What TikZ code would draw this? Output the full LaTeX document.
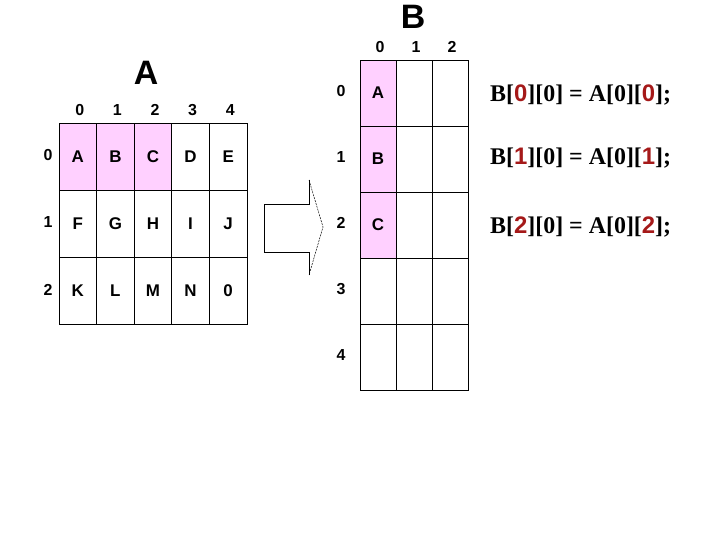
\documentclass[tikz,border=0pt]{standalone}
\usepackage{fontspec}
\setmainfont{Liberation Sans}
\newfontfamily\eqfont{Liberation Serif}
\usepackage{xcolor}
\usetikzlibrary{positioning}
\definecolor{cellpink}{RGB}{255,208,255}
\definecolor{idxred}{RGB}{165,25,25}
\newcommand{\idx}[1]{{\normalfont\fontsize{24}{24}\selectfont\bfseries\color{idxred}#1}}

\begin{document}
\begin{tikzpicture}[x=1bp, y=-1bp,
  acell/.style={draw, line width=0.9pt, minimum width=37.6bp, minimum height=67bp,
    inner sep=0pt, font=\fontsize{17}{17}\selectfont\bfseries},
  bcell/.style={acell, minimum width=36bp, minimum height=66bp},
  lbl/.style={inner sep=0pt, font=\fontsize{16}{16}\selectfont\bfseries},
  ttl/.style={inner sep=0pt, font=\fontsize{34}{34}\selectfont\bfseries},
  eq/.style={anchor=west, inner sep=0pt, font=\fontsize{24}{24}\selectfont\eqfont\bfseries}]
\useasboundingbox (0,0) rectangle (720,540);
% array A
\node[ttl] (ta) at (146,73) {A};
\foreach \c in {0,1,2}
  \fill[cellpink] ({59+37.6*\c},123) rectangle ({59+37.6*(\c+1)},190);
\foreach \t [count=\n from 0] in {A,B,C,D,E,F,G,H,I,J,K,L,M,N,0} {
  \pgfmathtruncatemacro\r{int(\n/5)}
  \pgfmathtruncatemacro\c{mod(\n,5)}
  \node[acell] (a-\r-\c) at ({59+37.6*(\c+0.5)},{123+67*(\r+0.5)}) {\t};
}
\foreach \c in {0,...,4}
  \node[lbl] (ac-\c) at ({59+37.6*(\c+0.5)+2},110) {\c};
\foreach \r in {0,1,2}
  \node[lbl] (ar-\r) at (48,{123+67*(\r+0.5)-1}) {\r};
% arrow
\draw[line width=0.9pt] (309,180) -- (309,204) -- (264,204) -- (264,252) -- (309,252) -- (309,275);
\draw[line width=0.5pt, dash pattern=on 2pt off 1pt] (309,180) -- (323,227) -- (309,275);
% array B
\node[ttl] (tb) at (413,17) {B};
\foreach \r in {0,1,2}
  \fill[cellpink] (360,{60+66*\r}) rectangle (396,{60+66*(\r+1)});
\foreach \r in {0,...,4}
  \foreach \c in {0,1,2}
    \node[bcell] (b-\r-\c) at ({360+36*(\c+0.5)},{60+66*(\r+0.5)}) {};
\foreach \r/\t in {0/A,1/B,2/C}
  \node[acell, draw=none] at (b-\r-0) {\t};
\foreach \c in {0,1,2}
  \node[lbl] (bc-\c) at ({360+36*(\c+0.5)+2},47) {\c};
\foreach \r in {0,...,4}
  \node[lbl] (br-\r) at (341,{60+66*(\r+0.5)-2}) {\r};
% assignments
\foreach \r/\y in {0/95,1/158,2/227}
  \node[eq] (eq-\r) at (490,\y) {B[\idx{\r}][0] = A[0][\idx{\r}];};
\end{tikzpicture}
\end{document}
